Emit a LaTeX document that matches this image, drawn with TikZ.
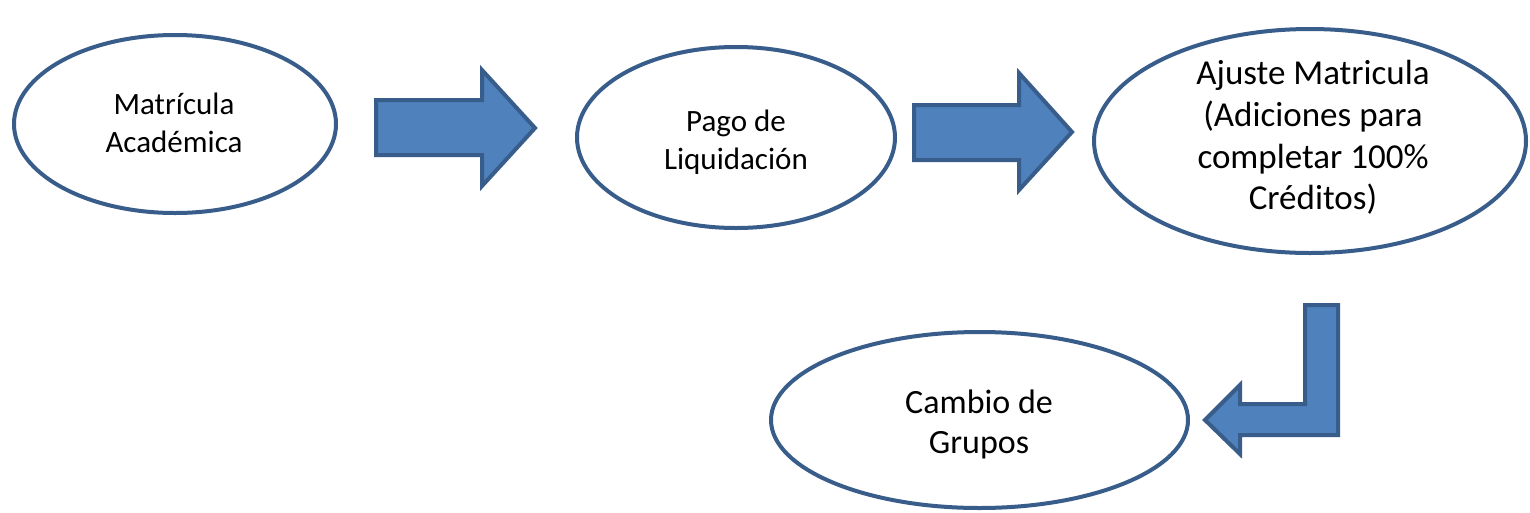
\documentclass[tikz,border=0pt]{standalone}
\usepackage{fontspec}
\setmainfont{Carlito}
\usetikzlibrary{shapes.geometric}
\definecolor{edgeblue}{HTML}{385D8A}
\definecolor{fillblue}{HTML}{4F81BD}
\tikzset{
  oval/.style={ellipse, draw=edgeblue, line width=4pt, fill=white, inner sep=0pt},
  label31/.style={align=center, font=\fontsize{31}{37.5}\selectfont, inner sep=0pt},
  label35/.style={align=center, font=\fontsize{35}{41.8}\selectfont, inner sep=0pt},
  label34/.style={align=center, font=\fontsize{34}{40.5}\selectfont, inner sep=0pt},
  blockarrow/.style={draw=edgeblue, fill=fillblue, line width=4pt, line join=miter}
}
\begin{document}
\begin{tikzpicture}[x=1pt, y=-1pt]
\useasboundingbox[fill=white] (0,0) rectangle (1530,512);
% ellipses
\node[oval, minimum width=322pt, minimum height=178pt] (e1) at (175,124) {};
\node[oval, minimum width=318pt, minimum height=181pt] (e2) at (736,137.5) {};
\node[oval, minimum width=432pt, minimum height=224pt] (e3) at (1310,141) {};
\node[oval, minimum width=417pt, minimum height=176pt] (e4) at (979.5,420) {};
% texts
\node[label31] (t1) at (174,123) {Matrícula\\Académica};
\node[label31] (t2) at (736,142) {Pago de\\Liquidación};
\node[label35] (t3) at (1313,137.5) {Ajuste Matricula\\(Adiciones para\\completar 100\%\\Créditos)};
\node[label34] (t4) at (979,424.5) {Cambio de\\Grupos};
% block arrows
\draw[blockarrow] (376,100) -- (482,100) -- (482,70) -- (535,128) -- (482,186) -- (482,155) -- (376,155) -- cycle;
\draw[blockarrow] (914,105) -- (1019,105) -- (1019,73) -- (1072,132) -- (1019,190) -- (1019,160) -- (914,160) -- cycle;
\draw[blockarrow] (1305,305) -- (1338,305) -- (1338,435) -- (1240,435) -- (1240,454) -- (1205,420) -- (1240,385) -- (1240,404) -- (1305,404) -- cycle;
\end{tikzpicture}
\end{document}
